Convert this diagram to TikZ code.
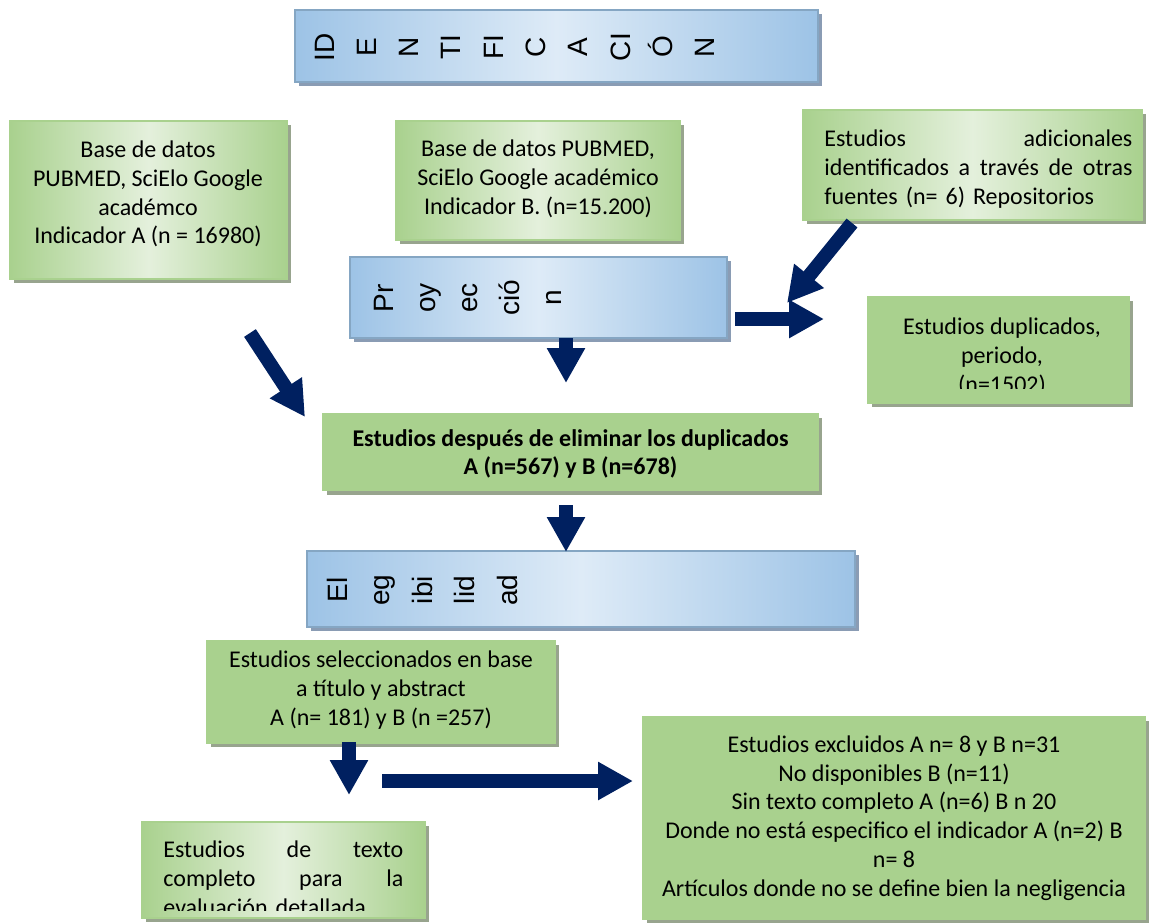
\documentclass[tikz,border=0pt]{standalone}
\usepackage{fontspec}
\setmainfont{Carlito}
\newfontfamily\bannerfont{Liberation Sans}
\usetikzlibrary{arrows.meta,shadows}

\definecolor{navy}{RGB}{0,32,96}
\definecolor{grn}{RGB}{169,209,142}
\definecolor{grnlight}{RGB}{228,240,220}
\definecolor{grnshadow}{RGB}{152,164,142}
\definecolor{blu}{RGB}{157,195,230}
\definecolor{blulight}{RGB}{222,235,247}
\definecolor{blushadow}{RGB}{138,156,180}

\tikzset{
  gradbox/.style={draw=grn, line width=0.6pt, inner sep=0pt,
    drop shadow={shadow xshift=2pt, shadow yshift=-2pt, fill=grnshadow, opacity=1},
    left color=grn, right color=grn, middle color=grnlight},
  solidbox/.style={draw=grn, fill=grn, line width=0.6pt, inner sep=0pt,
    drop shadow={shadow xshift=2pt, shadow yshift=-2pt, fill=grnshadow, opacity=1}},
  bluebanner/.style={draw=blu!85!black, line width=0.6pt, inner sep=0pt,
    drop shadow={shadow xshift=2pt, shadow yshift=-2pt, fill=blushadow, opacity=1},
    left color=blu, right color=blu, middle color=blulight},
  bannertext/.style={font=\bannerfont\fontsize{14}{16}\selectfont, rotate=90, anchor=base, inner sep=0pt},
  boxtext/.style={font=\fontsize{12}{14.4}\selectfont, align=center, inner sep=0pt},
  bigarrow/.style={draw=navy, line width=7pt, -{Triangle[width=18pt,length=17.5pt]}}
}

\begin{document}
\begin{tikzpicture}[x=0.5pt, y=-0.5pt]
  \useasboundingbox (0,0) rectangle (1150,923);

  % Identificacion
  \node[bluebanner, minimum width=261.5pt, minimum height=36pt] (identif) at (556.5,46) {};
  \foreach \t [count=\i] in {ID,E,N,TI,FI,C,A,CI,Ó,N}
    \node[bannertext] (identif\i) at ({334+42.3*(\i-1)},47) {\t};

  % Fuentes
  \node[gradbox, minimum width=138.5pt, minimum height=79pt] (dbA) at (148.5,200) {};
  \node[boxtext] (dbAtxt) at (148,194) {Base de datos\\PUBMED, SciElo Google\\académco\\Indicador A (n = 16980)};
  \node[gradbox, minimum width=142pt, minimum height=59.5pt] (dbB) at (538,180.5) {};
  \node[boxtext] (dbBtxt) at (538,179) {Base de datos PUBMED,\\SciElo Google académico\\Indicador B. (n=15.200)};
  \node[gradbox, minimum width=169.5pt, minimum height=55pt] (extra) at (972.5,165) {};
  \node[boxtext, align=left, text width=154pt, anchor=north west] (extratxt) at (824,126)
    {\strut Estudios\hfill adicionales\\identificados\hfill a\hfill través\hfill de\hfill otras\\fuentes (n= 6) Repositorios};

  % Proyeccion
  \node[bluebanner, minimum width=188.5pt, minimum height=40.5pt] (proy) at (538.5,297.5) {};
  \foreach \t [count=\i] in {Pr,oy,ec,ció,n}
    \node[bannertext] (proy\i) at ({393+42*(\i-1)},298) {\t};

  % Duplicados
  \node[solidbox, minimum width=130.5pt, minimum height=53pt] (dupl) at (998.5,350) {};
  \begin{scope}
    \clip (868,297) rectangle (1129,388);
    \node[boxtext, anchor=north] (dupltxt) at (1002,314)
      {\strut Estudios duplicados,\\periodo,\\(n=1502)};
  \end{scope}

  \node[solidbox, minimum width=247.5pt, minimum height=38.5pt] (sindup) at (570.5,452) {};
  \node[boxtext, font=\fontsize{12}{14.4}\selectfont\bfseries] (sinduptxt) at (570.5,454)
    {Estudios después de eliminar los duplicados\\A (n=567) y B (n=678)};

  % Elegibilidad
  \node[bluebanner, minimum width=274pt, minimum height=38pt] (eleg) at (581,589) {};
  \foreach \t [count=\i] in {El,eg,ibi,lid,ad}
    \node[bannertext] (eleg\i) at ({347+42.6*(\i-1)},590) {\t};

  \node[solidbox, minimum width=174pt, minimum height=51pt] (selec) at (381,692) {};
  \node[boxtext] (selectxt) at (381,690)
    {Estudios seleccionados en base\\a título y abstract\\A (n= 181) y B (n =257)};

  \node[solidbox, minimum width=251pt, minimum height=101pt] (excl) at (894,818) {};
  \node[boxtext] (excltxt) at (894,818)
    {Estudios excluidos A n= 8 y B n=31\\No disponibles B (n=11)\\Sin texto completo A (n=6) B n 20\\Donde no está especifico el indicador A (n=2) B\\n= 8\\Artículos donde no se define bien la negligencia};

  \node[gradbox, minimum width=141.5pt, minimum height=48pt] (textoc) at (283.5,870) {};
  \begin{scope}
    \clip (142,822) rectangle (425,910);
    \node[boxtext, align=left, text width=120pt, anchor=north west] (textoctxt) at (163,837)
      {\strut Estudios\hfill de\hfill texto\\completo\hfill para\hfill la\\evaluación detallada};
  \end{scope}

  % Flechas
  \coordinate (dbAout) at (250,333);   \coordinate (sindupin) at (305,417);
  \coordinate (proyout) at (566,338);  \coordinate (proybelow) at (566,383);
  \coordinate (proyright) at (735,319); \coordinate (duplin) at (824,319);
  \coordinate (extraout) at (852,223); \coordinate (extratip) at (787,303);
  \coordinate (sindupout) at (566,505); \coordinate (elegin) at (566,552);
  \coordinate (selecout) at (349,742); \coordinate (textocin) at (349,795);
  \coordinate (exclstart) at (382,781); \coordinate (exclin) at (633,781);
  \draw[bigarrow] (dbAout) -- (sindupin);
  \draw[bigarrow] (proyout) -- (proybelow);
  \draw[bigarrow] (proyright) -- (duplin);
  \draw[bigarrow] (extraout) -- (extratip);
  \draw[bigarrow] (sindupout) -- (elegin);
  \draw[bigarrow] (selecout) -- (textocin);
  \draw[bigarrow] (exclstart) -- (exclin);
\end{tikzpicture}
\end{document}
